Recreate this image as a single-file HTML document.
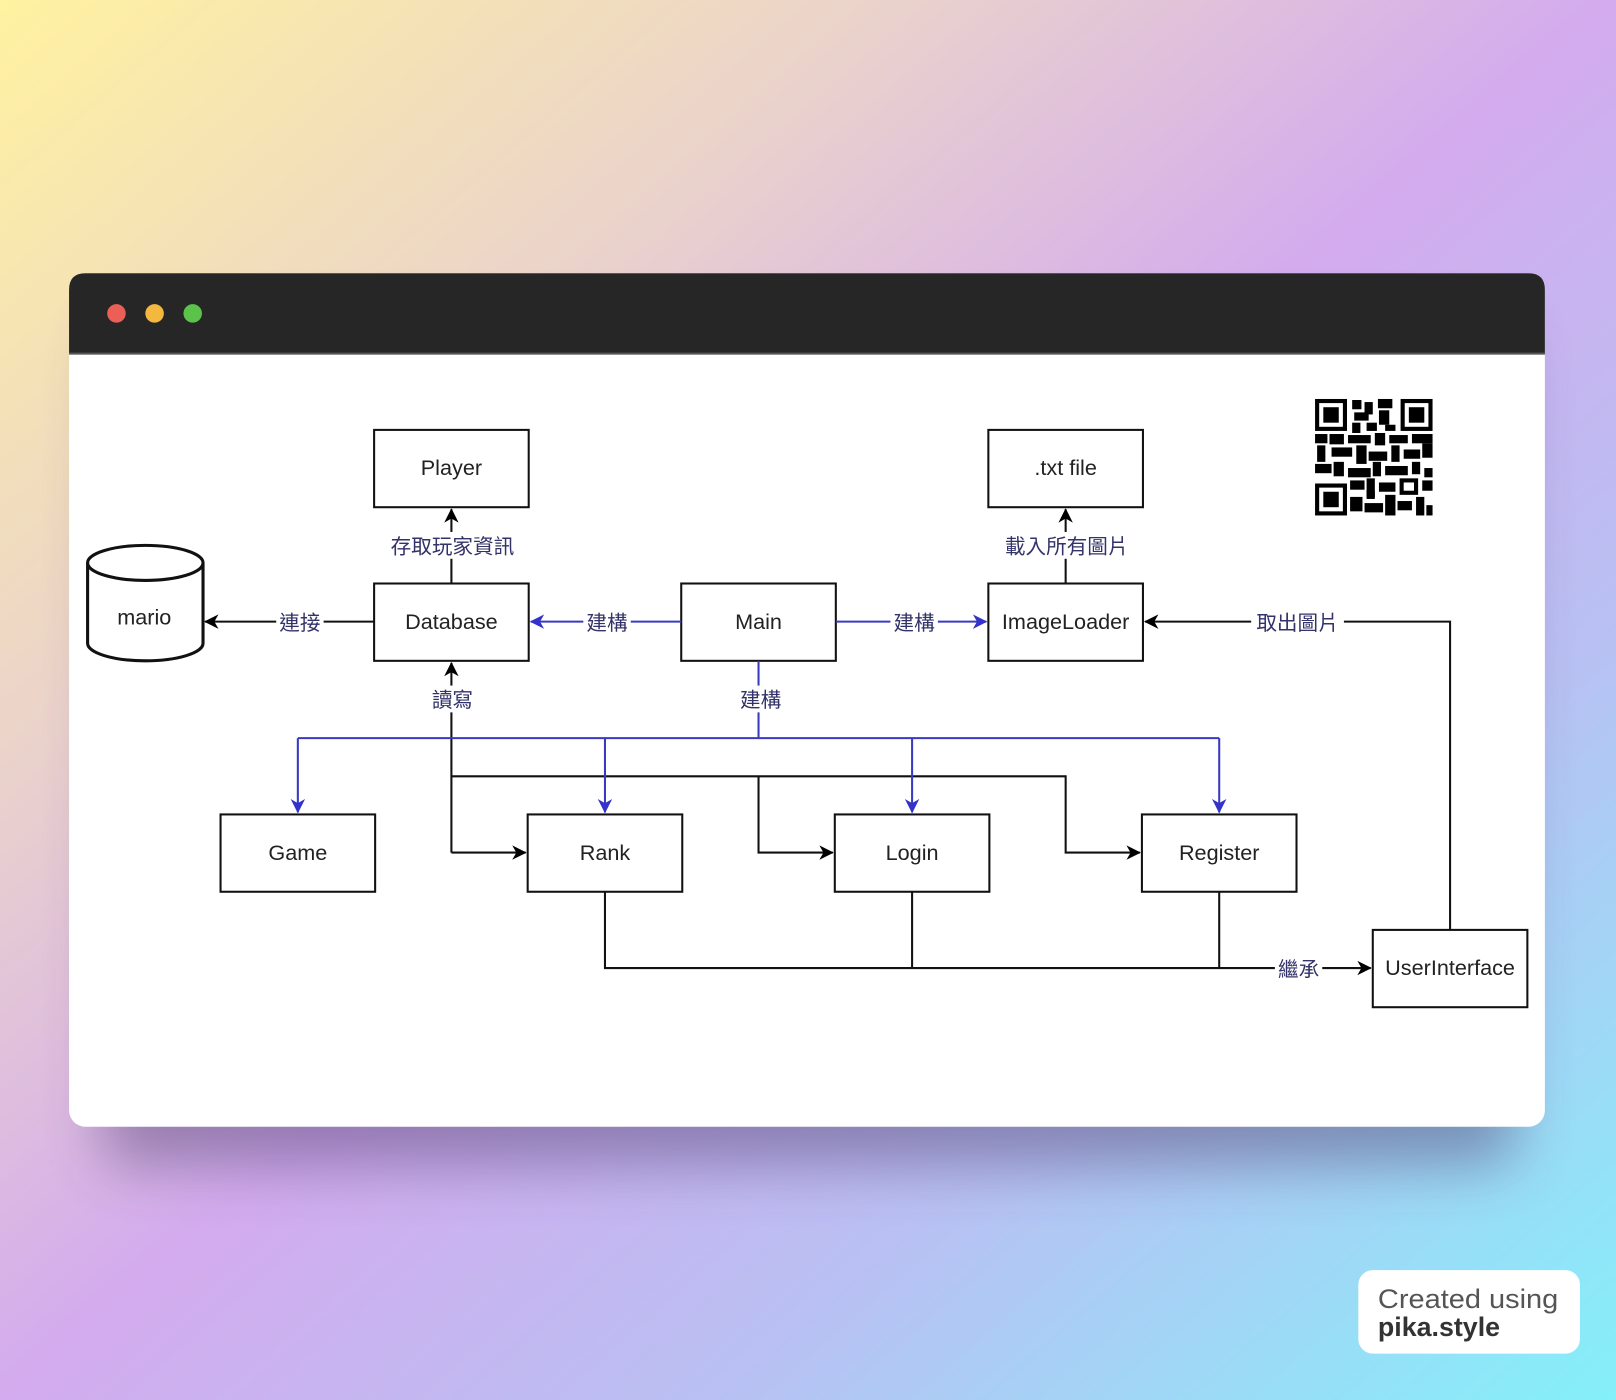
<!DOCTYPE html>
<html><head><meta charset="utf-8"><style>
html,body{margin:0;padding:0}
body{width:1616px;height:1400px;overflow:hidden;background:linear-gradient(to bottom right,#fff2a0 0%,#ead2cc 28%,#d3abee 50%,#b9c0f3 72%,#84f0f9 100%)}
svg{display:block}
</style></head><body>
<svg width="1616" height="1400" viewBox="0 0 1568 1358" preserveAspectRatio="none" xmlns="http://www.w3.org/2000/svg">
<defs>
<filter id="sh" x="-20%" y="-20%" width="140%" height="150%"><feGaussianBlur stdDeviation="28"/></filter>
<marker id="ab" markerWidth="16" markerHeight="16" refX="13" refY="7" orient="auto" markerUnits="userSpaceOnUse"><path d="M0,0 L14,7 L0,14 L4,7 Z" fill="#000"/></marker>
<marker id="au" markerWidth="16" markerHeight="16" refX="13" refY="7" orient="auto" markerUnits="userSpaceOnUse"><path d="M0,0 L14,7 L0,14 L4,7 Z" fill="#3333cc"/></marker>
</defs>
<rect x="100" y="320" width="1370" height="810" rx="20" fill="#4a3a6a" opacity="0.45" filter="url(#sh)"/>
<rect x="67" y="265" width="1432" height="828" rx="16" fill="#fff"/>
<path d="M67,343 V281 Q67,265 83,265 H1483 Q1499,265 1499,281 V343 Z" fill="#262626"/>
<rect x="67" y="342" width="1432" height="2" fill="#555"/>
<circle cx="113" cy="304" r="9" fill="#ec5f57"/>
<circle cx="150" cy="304" r="9" fill="#f5b83f"/>
<circle cx="187" cy="304" r="9" fill="#5bc24a"/>

<g font-family="Liberation Sans, Arial, sans-serif" font-size="21" fill="#222" text-anchor="middle">
<g fill="#fff" stroke="#111" stroke-width="2">
<rect x="363" y="417" width="150" height="75"/>
<rect x="959" y="417" width="150" height="75"/>
<rect x="363" y="566" width="150" height="75"/>
<rect x="661" y="566" width="150" height="75"/>
<rect x="959" y="566" width="150" height="75"/>
<rect x="214" y="790" width="150" height="75"/>
<rect x="512" y="790" width="150" height="75"/>
<rect x="810" y="790" width="150" height="75"/>
<rect x="1108" y="790" width="150" height="75"/>
<rect x="1332" y="902" width="150" height="75"/>
</g>
<text x="438" y="461">Player</text>
<text x="1034" y="461">.txt file</text>
<text x="438" y="610">Database</text>
<text x="736" y="610">Main</text>
<text x="1034" y="610">ImageLoader</text>
<text x="289" y="834">Game</text>
<text x="587" y="834">Rank</text>
<text x="885" y="834">Login</text>
<text x="1183" y="834">Register</text>
<text x="1407" y="946">UserInterface</text>
<path d="M85,546 V624 A56,17 0 0 0 197,624 V546" fill="#fff" stroke="#111" stroke-width="3"/>
<ellipse cx="141" cy="546" rx="56" ry="17" fill="#fff" stroke="#111" stroke-width="3"/>
<text x="140" y="606">mario</text>

<g fill="none" stroke-width="2">
<g stroke="#111">
<line x1="438" y1="566" x2="438" y2="494" marker-end="url(#ab)"/>
<line x1="1034" y1="566" x2="1034" y2="494" marker-end="url(#ab)"/>
<line x1="363" y1="603" x2="199" y2="603" marker-end="url(#ab)"/>
<line x1="438" y1="827" x2="438" y2="643" marker-end="url(#ab)"/>
<line x1="438" y1="827" x2="510" y2="827" marker-end="url(#ab)"/>
<polyline points="438,753 1034,753 1034,827 1106,827" marker-end="url(#ab)"/>
<polyline points="736,753 736,827 808,827" marker-end="url(#ab)"/>
<polyline points="587,865 587,939 1330,939" marker-end="url(#ab)"/>
<line x1="885" y1="865" x2="885" y2="939"/>
<line x1="1183" y1="865" x2="1183" y2="939"/>
<polyline points="1407,902 1407,603 1111,603" marker-end="url(#ab)"/>
</g>
<g stroke="#3a3ac0">
<line x1="661" y1="603" x2="515" y2="603" marker-end="url(#au)"/>
<line x1="811" y1="603" x2="957" y2="603" marker-end="url(#au)"/>
<line x1="736" y1="641" x2="736" y2="716"/>
<line x1="289" y1="716" x2="1183" y2="716"/>
<line x1="289" y1="716" x2="289" y2="788" marker-end="url(#au)"/>
<line x1="587" y1="716" x2="587" y2="788" marker-end="url(#au)"/>
<line x1="885" y1="716" x2="885" y2="788" marker-end="url(#au)"/>
<line x1="1183" y1="716" x2="1183" y2="788" marker-end="url(#au)"/>
</g>
</g>
<g font-family="Liberation Sans, Noto Sans CJK TC, sans-serif" font-size="20" fill="#33336a">
<rect x="372" y="516" width="134" height="26" fill="#fff"/>
<text x="439" y="537">存取玩家資訊</text>
<rect x="968" y="516" width="134" height="26" fill="#fff"/>
<text x="1035" y="537">載入所有圖片</text>
<rect x="268" y="590" width="46" height="26" fill="#fff"/>
<text x="291" y="611">連接</text>
<rect x="566" y="590" width="46" height="26" fill="#fff"/>
<text x="589" y="611">建構</text>
<rect x="864" y="590" width="46" height="26" fill="#fff"/>
<text x="887" y="611">建構</text>
<rect x="415" y="665" width="46" height="26" fill="#fff"/>
<text x="439" y="686">讀寫</text>
<rect x="714" y="665" width="46" height="26" fill="#fff"/>
<text x="738" y="686">建構</text>
<rect x="1214" y="590" width="90" height="26" fill="#fff"/>
<text x="1259" y="611">取出圖片</text>
<rect x="1237" y="926" width="46" height="26" fill="#fff"/>
<text x="1260" y="947">繼承</text>
</g>
</g>

<g fill="#000">
<rect x="1276" y="387" width="31" height="31"/><rect x="1280" y="391" width="23" height="23" fill="#fff"/><rect x="1284" y="395" width="15" height="15"/>
<rect x="1359" y="387" width="31" height="31"/><rect x="1363" y="391" width="23" height="23" fill="#fff"/><rect x="1367" y="395" width="15" height="15"/>
<rect x="1276" y="469" width="31" height="31"/><rect x="1280" y="473" width="23" height="23" fill="#fff"/><rect x="1284" y="477" width="15" height="15"/>
<rect x="1312" y="388" width="9" height="9"/><rect x="1324" y="390" width="8" height="12"/><rect x="1337" y="387" width="14" height="9"/><rect x="1314" y="400" width="14" height="8"/><rect x="1338" y="398" width="10" height="14"/><rect x="1312" y="410" width="8" height="10"/><rect x="1326" y="410" width="10" height="8"/><rect x="1344" y="412" width="10" height="6"/>
<rect x="1276" y="421" width="12" height="9"/><rect x="1290" y="421" width="14" height="10"/><rect x="1308" y="422" width="22" height="8"/><rect x="1334" y="420" width="10" height="12"/><rect x="1348" y="422" width="18" height="8"/><rect x="1370" y="421" width="20" height="9"/>
<rect x="1278" y="432" width="8" height="16"/><rect x="1292" y="434" width="20" height="9"/><rect x="1316" y="432" width="10" height="18"/><rect x="1328" y="438" width="18" height="9"/><rect x="1350" y="432" width="8" height="16"/><rect x="1362" y="436" width="16" height="9"/><rect x="1380" y="430" width="10" height="14"/>
<rect x="1276" y="450" width="16" height="9"/><rect x="1294" y="448" width="10" height="14"/><rect x="1308" y="454" width="22" height="9"/><rect x="1332" y="448" width="8" height="14"/><rect x="1344" y="452" width="22" height="9"/><rect x="1370" y="448" width="8" height="12"/><rect x="1382" y="454" width="8" height="9"/>
<rect x="1310" y="466" width="14" height="9"/><rect x="1326" y="464" width="8" height="18"/><rect x="1338" y="468" width="16" height="9"/><rect x="1358" y="464" width="18" height="16"/><rect x="1362" y="468" width="10" height="8" fill="#fff"/><rect x="1380" y="466" width="10" height="10"/>
<rect x="1310" y="482" width="12" height="14"/><rect x="1324" y="488" width="18" height="9"/><rect x="1344" y="480" width="10" height="20"/><rect x="1356" y="486" width="14" height="9"/><rect x="1374" y="482" width="8" height="18"/><rect x="1384" y="490" width="6" height="10"/><rect x="1326" y="476" width="8" height="8"/>
</g>

<rect x="1318" y="1232" width="215" height="81" rx="14" fill="#fff"/>
<text x="1337" y="1269" font-family="Liberation Sans, Arial, sans-serif" font-size="26" fill="#555" textLength="175" lengthAdjust="spacingAndGlyphs">Created using</text>
<text x="1337" y="1296" font-family="Liberation Sans, Arial, sans-serif" font-size="26" font-weight="bold" fill="#333">pika.style</text>
</svg>
</body></html>
